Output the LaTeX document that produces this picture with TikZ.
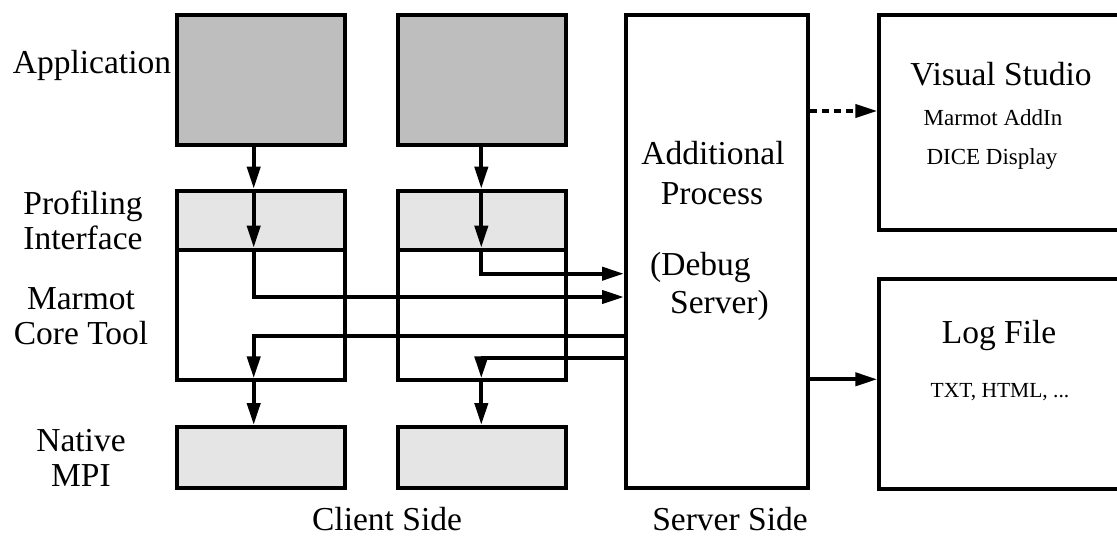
\documentclass[tikz,border=0pt]{standalone}
\usepackage{fontspec}
\setmainfont{Liberation Serif}
\usetikzlibrary{arrows.meta}
\definecolor{appgray}{gray}{0.745}
\definecolor{ltgray}{gray}{0.898}
\begin{document}
\begin{tikzpicture}[x=1pt,y=-1pt,
  box/.style={draw=black,line width=4pt,inner sep=0pt,rectangle},
  conn/.style={line width=4pt},
  arr/.style={line width=4pt,-{Triangle[length=22pt,width=13pt]}},
  dasharr/.style={line width=4pt,dash pattern=on 6.5pt off 5.5pt,-{Triangle[length=22pt,width=13pt]}},
  big/.style={font=\fontsize{33.5}{40}\selectfont,inner sep=0pt,anchor=base},
  small/.style={font=\fontsize{23}{28}\selectfont,inner sep=0pt,anchor=base},
  tiny/.style={font=\fontsize{21.5}{26}\selectfont,inner sep=0pt,anchor=base}]
\clip (0,0) rectangle (1117,536);
% boxes (centre, width, height from pixel measurements)
\node[box,fill=appgray,minimum width=167.7pt,minimum height=129.7pt] (app1) at (260.85,80.15) {};
\node[box,fill=appgray,minimum width=167.5pt,minimum height=129.7pt] (app2) at (481.75,80.15) {};
\node[box,fill=ltgray,minimum width=167.7pt,minimum height=59pt] (prof1) at (260.85,220.2) {};
\node[box,fill=ltgray,minimum width=167.5pt,minimum height=59pt] (prof2) at (481.75,220.2) {};
\node[box,fill=white,minimum width=167.7pt,minimum height=130.6pt] (core1) at (260.85,315) {};
\node[box,fill=white,minimum width=167.5pt,minimum height=130.6pt] (core2) at (481.75,315) {};
\node[box,fill=ltgray,minimum width=167.7pt,minimum height=61.3pt] (nat1) at (260.85,457.65) {};
\node[box,fill=ltgray,minimum width=167.5pt,minimum height=61.3pt] (nat2) at (481.75,457.65) {};
\node[box,fill=white,minimum width=182pt,minimum height=472.7pt] (srv) at (717,251.65) {};
\node[box,fill=white,minimum width=252pt,minimum height=214.7pt] (vs) at (1005.3,122.65) {};
\node[box,fill=white,minimum width=252pt,minimum height=210.3pt] (log) at (1005.3,384.15) {};
% helper coordinates
\coordinate (c1) at (253.7,0);
\coordinate (c2) at (481.3,0);
\coordinate (ra) at (0,273.7);
\coordinate (rb) at (0,297);
\coordinate (rc) at (0,335.7);
\coordinate (rd) at (0,358.3);
\coordinate (rv) at (0,111);
\coordinate (rl) at (0,379.3);
% connectors
\draw[arr] (c1 |- app1.south) -- (c1 |- prof1.north);
\draw[arr] (c2 |- app2.south) -- (c2 |- prof2.north);
\draw[arr] (c1 |- prof1.north) -- (c1 |- core1.north);
\draw[arr] (c2 |- prof2.north) -- (c2 |- core2.north);
\draw[arr] (c1 |- core1.north) -- (c1 |- rb) -- (srv.west |- rb);
\draw[arr] (c2 |- core2.north) -- (c2 |- ra) -- (srv.west |- ra);
\draw[arr] ([xshift=2pt]srv.west |- rc) -- (c1 |- rc) -- ([yshift=4pt]c1 |- core1.south);
\draw[arr] ([xshift=2pt]srv.west |- rd) -- (c2 |- rd) -- ([yshift=4pt]c2 |- core2.south);
\draw[arr] (c1 |- core1.south) -- (c1 |- nat1.north);
\draw[arr] (c2 |- core2.south) -- (c2 |- nat2.north);
\draw[dasharr] (srv.east |- rv) -- (vs.west |- rv);
\draw[arr] (srv.east |- rl) -- (log.west |- rl);
% left labels
\node[big] (lapp) at (92,73) {Application};
\node[big] (lprof) at (83,214) {Profiling};
\node[big] (lintf) at (83,249) {Interface};
\node[big] (lmar) at (81,309) {Marmot};
\node[big] (lcore) at (81,344) {Core Tool};
\node[big] (lnat) at (81,451) {Native};
\node[big] (lmpi) at (81,486) {MPI};
% server texts
\node[big] (tadd) at (713,164) {Additional};
\node[big] (tproc) at (712,204) {Process};
\node[big,anchor=base west] (tdbg) at (650,275) {(Debug};
\node[big,anchor=base west] (tsrv) at (670,313) {Server)};
% right texts
\node[big] (tvs) at (1001,85) {Visual Studio};
\node[small] (tadd2) at (993,125.6) {Marmot AddIn};
\node[small] (tdice) at (992,164.5) {DICE Display};
\node[big] (tlog) at (999,343.6) {Log File};
\node[tiny] (ttxt) at (1000,397) {TXT, HTML, ...};
% bottom captions
\node[big] (tcl) at (387,530) {Client Side};
\node[big] (tss) at (730,530) {Server Side};
\end{tikzpicture}
\end{document}
